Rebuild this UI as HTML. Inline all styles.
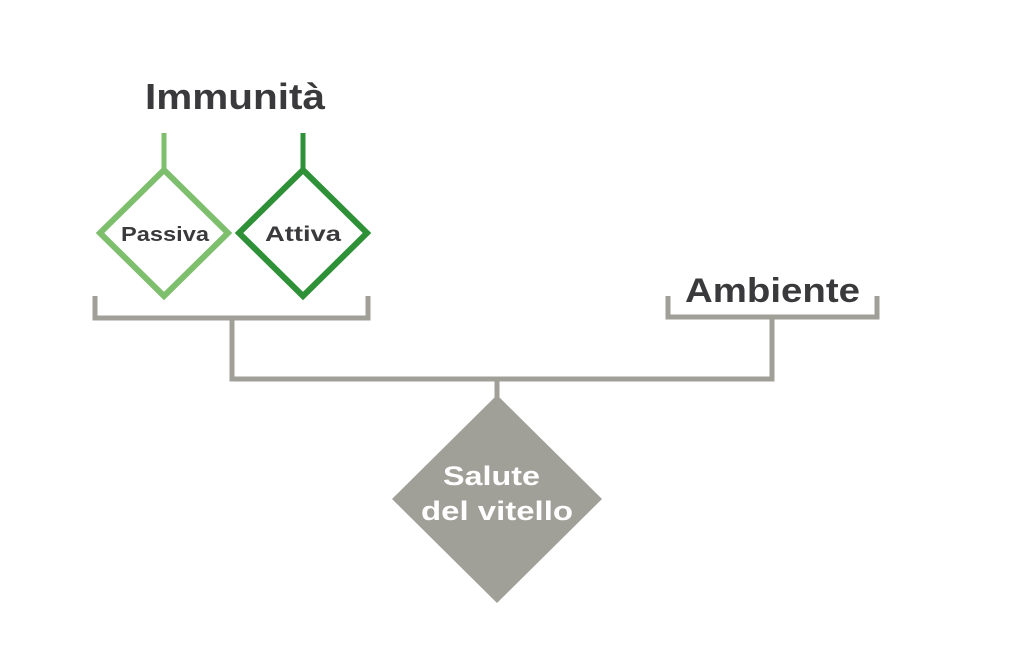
<!DOCTYPE html>
<html><head><meta charset="utf-8"><style>
html,body{margin:0;padding:0;background:#fff;}
svg{display:block;}
text{font-family:"Liberation Sans","DejaVu Sans",sans-serif;font-weight:bold;}
</style></head><body>
<svg width="1024" height="662" viewBox="0 0 1024 662">
<g fill="none" stroke-width="5" stroke="#a09f98">
<polyline points="95,296 95,318 368,318 368,296"/>
<line x1="232" y1="318" x2="232" y2="381"/>
<polyline points="668,296 668,317 877,317 877,296"/>
<line x1="772" y1="317" x2="772" y2="381"/>
<line x1="229.5" y1="379" x2="774.5" y2="379"/>
<line x1="497" y1="379" x2="497" y2="400"/>
</g>
<polygon points="497,395 602,499 497,603 392,499" fill="#a09f98"/>
<line x1="164" y1="133" x2="164" y2="170" stroke="#7dbf6c" stroke-width="5"/>
<polygon points="164,170 228,233 164,296 100,233" fill="#fff" stroke="#7dbf6c" stroke-width="6"/>
<line x1="303" y1="133" x2="303" y2="170" stroke="#2e9137" stroke-width="5"/>
<polygon points="303,170 367,233 303,296 239,233" fill="#fff" stroke="#2e9137" stroke-width="6"/>
<text x="145" y="109" font-size="36" fill="#3a3a3c" textLength="180" lengthAdjust="spacingAndGlyphs">Immunità</text>
<text x="685" y="302" font-size="34" fill="#3a3a3c" textLength="175" lengthAdjust="spacingAndGlyphs">Ambiente</text>
<text x="121" y="241" font-size="20" fill="#3a3a3c" textLength="88" lengthAdjust="spacingAndGlyphs">Passiva</text>
<text x="265" y="241" font-size="21" fill="#3a3a3c" textLength="76" lengthAdjust="spacingAndGlyphs">Attiva</text>
<text x="443" y="485" font-size="27" fill="#fff" textLength="97" lengthAdjust="spacingAndGlyphs">Salute</text>
<text x="421" y="520" font-size="27" fill="#fff" textLength="152" lengthAdjust="spacingAndGlyphs">del vitello</text>
</svg>
</body></html>
